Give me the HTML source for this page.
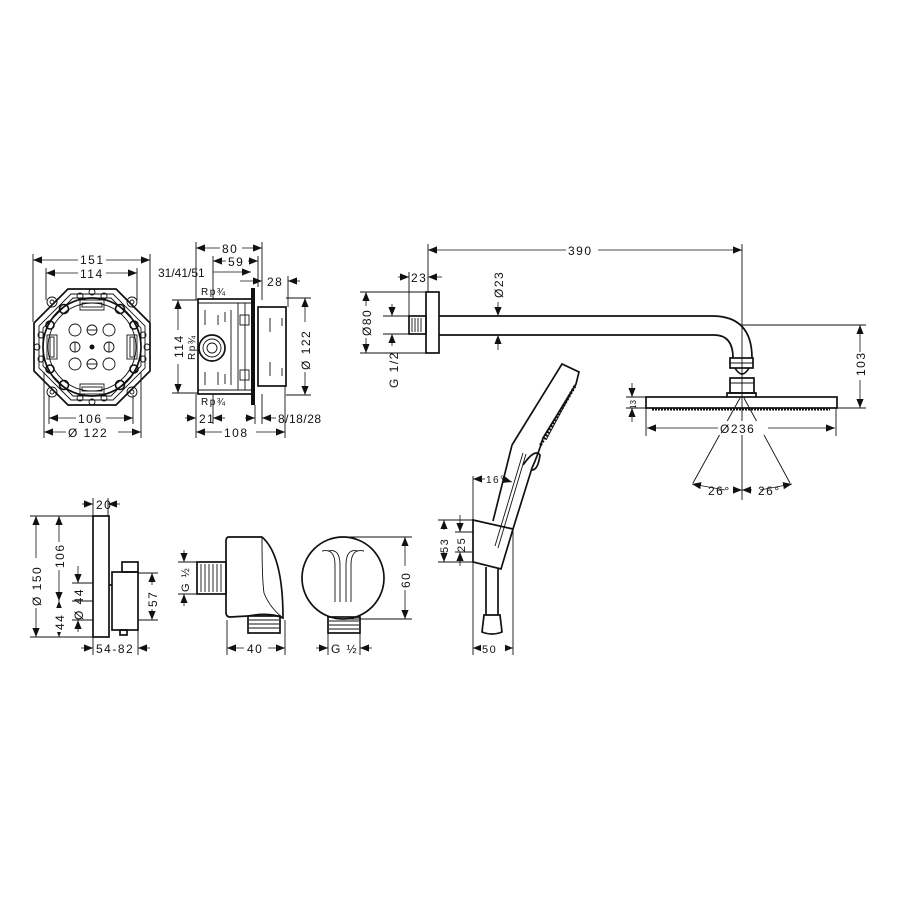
<!DOCTYPE html>
<html><head><meta charset="utf-8"><style>
html,body{margin:0;padding:0;background:#fff}
svg{display:block}
text{font-family:"Liberation Sans",sans-serif;font-size:12px;fill:#111;letter-spacing:1.5px}
.s{fill:none;stroke:#111;stroke-width:1.7}
.t{fill:none;stroke:#111;stroke-width:0.9}
.d{fill:none;stroke:#111;stroke-width:0.8;marker-start:url(#a);marker-end:url(#a)}
.e{fill:none;stroke:#111;stroke-width:0.8;marker-end:url(#a)}
</style></head><body>
<svg width="900" height="900" viewBox="0 0 900 900" xmlns="http://www.w3.org/2000/svg">
<defs>
<marker id="a" viewBox="0 0 10 10" refX="10" refY="5" markerWidth="9" markerHeight="9" markerUnits="userSpaceOnUse" orient="auto-start-reverse"><path d="M0,1 L10,5 L0,9 Z" fill="#111"/></marker>
</defs>

<!-- ===== Octagon box ===== -->
<g>
<polygon class="s" points="68,289 116,289 150,323 150,371 116,405 68,405 34,371 34,323"/>
<polygon class="t" points="71,294 113,294 145,326 145,368 113,400 71,400 39,368 39,326"/>
<polygon class="t" points="73,298 111,298 141,328 141,366 111,396 73,396 43,366 43,328"/>
<circle class="s" cx="92" cy="347" r="49" stroke-width="3"/>
<circle class="t" cx="92" cy="347" r="44"/>
<g class="t">
<circle cx="52" cy="302" r="5"/><circle cx="132" cy="302" r="5"/><circle cx="52" cy="392" r="5"/><circle cx="132" cy="392" r="5"/>
<circle cx="52" cy="302" r="2"/><circle cx="132" cy="302" r="2"/><circle cx="52" cy="392" r="2"/><circle cx="132" cy="392" r="2"/>
<circle cx="64" cy="309" r="4.5" stroke-width="1.6"/><circle cx="120" cy="309" r="4.5" stroke-width="1.6"/><circle cx="64" cy="385" r="4.5" stroke-width="1.6"/><circle cx="120" cy="385" r="4.5" stroke-width="1.6"/>
<circle cx="50" cy="325" r="4" stroke-width="1.6"/><circle cx="134" cy="325" r="4" stroke-width="1.6"/><circle cx="50" cy="369" r="4" stroke-width="1.6"/><circle cx="134" cy="369" r="4" stroke-width="1.6"/>
<circle cx="80" cy="296" r="3"/><circle cx="104" cy="296" r="3"/><circle cx="80" cy="398" r="3"/><circle cx="104" cy="398" r="3"/>
<circle cx="41" cy="335" r="3"/><circle cx="41" cy="359" r="3"/><circle cx="143" cy="335" r="3"/><circle cx="143" cy="359" r="3"/>
<circle cx="92" cy="292" r="3"/><circle cx="92" cy="402" r="3"/><circle cx="37" cy="347" r="3"/><circle cx="147" cy="347" r="3"/>
<circle cx="75" cy="330" r="6"/><circle cx="92" cy="330" r="5"/><circle cx="109" cy="330" r="6"/>
<circle cx="75" cy="347" r="5"/><circle cx="109" cy="347" r="5"/>
<circle cx="75" cy="364" r="6"/><circle cx="92" cy="364" r="5"/><circle cx="109" cy="364" r="6"/>
<line x1="87" y1="330" x2="97" y2="330"/><line x1="87" y1="364" x2="97" y2="364"/><line x1="75" y1="342" x2="75" y2="352"/><line x1="109" y1="342" x2="109" y2="352"/>
<rect x="80" y="300" width="24" height="10"/><rect x="82" y="303" width="20" height="4"/>
<rect x="80" y="384" width="24" height="10"/><rect x="82" y="387" width="20" height="4"/>
<rect x="47" y="335" width="10" height="24"/><rect x="50" y="337" width="4" height="20"/>
<rect x="127" y="335" width="10" height="24"/><rect x="130" y="337" width="4" height="20"/>
</g>
<circle cx="92" cy="347" r="2.5" fill="#111"/>
<g class="t">
<line x1="33" y1="254" x2="33" y2="322"/><line x1="150" y1="254" x2="150" y2="322"/>
<line x1="46" y1="268" x2="46" y2="300"/><line x1="137" y1="268" x2="137" y2="300"/>
<line x1="49" y1="395" x2="49" y2="424"/><line x1="133" y1="395" x2="133" y2="424"/>
<line x1="44" y1="372" x2="44" y2="438"/><line x1="141" y1="372" x2="141" y2="438"/>
</g>
<line class="d" x1="33" y1="260" x2="150" y2="260"/>
<line class="d" x1="46" y1="273" x2="137" y2="273"/>
<line class="d" x1="49" y1="418" x2="133" y2="418"/>
<line class="d" x1="44" y1="432" x2="141" y2="432"/>
<rect x="78" y="252" width="28" height="14" fill="#fff"/><text x="80" y="264">151</text>
<rect x="78" y="266" width="28" height="14" fill="#fff"/><text x="80" y="278">114</text>
<rect x="76" y="411" width="30" height="14" fill="#fff"/><text x="78" y="423">106</text>
<rect x="66" y="425" width="52" height="14" fill="#fff"/><text x="68" y="437">Ø 122</text>
</g>

<!-- ===== Side box ===== -->
<g>
<rect class="s" x="198" y="299" width="54" height="95"/>
<line class="t" x1="198" y1="303" x2="252" y2="303"/><line class="t" x1="198" y1="390" x2="252" y2="390"/>
<rect x="251" y="288" width="4" height="117" fill="#111"/>
<rect class="s" x="258" y="307" width="28" height="79"/>
<line class="t" x1="238" y1="303" x2="238" y2="390"/><line class="t" x1="245" y1="303" x2="245" y2="390"/>
<line class="t" x1="231" y1="310" x2="231" y2="385"/>
<rect class="t" x="240" y="315" width="9" height="10"/><rect class="t" x="240" y="370" width="9" height="10"/>
<circle class="s" cx="212" cy="348" r="13" stroke-width="2.4"/><circle class="t" cx="212" cy="348" r="9"/><circle class="t" cx="212" cy="348" r="5"/>
<g class="t">
<line x1="205" y1="310" x2="205" y2="325"/><line x1="218" y1="315" x2="218" y2="325"/><line x1="225" y1="312" x2="225" y2="322"/>
<line x1="205" y1="372" x2="205" y2="385"/><line x1="218" y1="372" x2="218" y2="385"/><line x1="225" y1="374" x2="225" y2="384"/>
<line x1="270" y1="318" x2="270" y2="332"/><line x1="270" y1="362" x2="270" y2="376"/>
<line x1="282" y1="318" x2="282" y2="326"/><line x1="282" y1="368" x2="282" y2="376"/>
<line x1="196" y1="242" x2="196" y2="300"/><line x1="262" y1="242" x2="262" y2="300"/>
<line x1="213" y1="256" x2="213" y2="300"/><line x1="258" y1="256" x2="258" y2="287"/>
<line x1="288" y1="276" x2="288" y2="307"/>
<line x1="172" y1="300" x2="198" y2="300"/><line x1="172" y1="393" x2="198" y2="393"/>
<line x1="286" y1="298" x2="311" y2="298"/><line x1="286" y1="395" x2="311" y2="395"/>
<line x1="196" y1="394" x2="196" y2="438"/><line x1="213" y1="394" x2="213" y2="424"/>
<line x1="255" y1="405" x2="255" y2="424"/><line x1="262" y1="394" x2="262" y2="424"/>
<line x1="285" y1="386" x2="285" y2="438"/>
</g>
<line class="d" x1="196" y1="248" x2="262" y2="248"/>
<line class="d" x1="213" y1="261" x2="258" y2="261"/>
<line class="e" x1="213" y1="272" x2="251" y2="272"/>
<line class="e" x1="240" y1="281" x2="262" y2="281"/><line class="e" x1="300" y1="281" x2="288" y2="281"/>
<line class="d" x1="178" y1="300" x2="178" y2="393"/>
<line class="d" x1="305" y1="298" x2="305" y2="395"/>
<line class="e" x1="185" y1="418" x2="196" y2="418"/><line class="e" x1="225" y1="418" x2="213" y2="418"/>
<line class="e" x1="245" y1="418" x2="255" y2="418"/><line class="e" x1="276" y1="418" x2="262" y2="418"/>
<line class="d" x1="196" y1="432" x2="285" y2="432"/>
<rect x="220" y="241" width="22" height="14" fill="#fff"/><text x="222" y="253">80</text>
<rect x="226" y="254" width="22" height="14" fill="#fff"/><text x="228" y="266">59</text>
<text x="158" y="277" style="letter-spacing:0">31/41/51</text>
<text x="267" y="286">28</text>
<text x="201" y="295" style="font-size:10px">Rp¾</text>
<text x="201" y="405" style="font-size:10px">Rp¾</text>
<rect x="171" y="330" width="14" height="34" fill="#fff"/>
<text transform="translate(183,358) rotate(-90)">114</text>
<text transform="translate(195,360) rotate(-90)" style="font-size:10px">Rp¾</text>
<rect x="298" y="322" width="14" height="50" fill="#fff"/>
<text transform="translate(310,370) rotate(-90)">Ø 122</text>
<text x="199" y="423">21</text>
<text x="278" y="423" style="letter-spacing:0.5px">8/18/28</text>
<rect x="222" y="425" width="34" height="14" fill="#fff"/><text x="224" y="437">108</text>
</g>

<!-- ===== Shower arm ===== -->
<g>
<rect class="s" x="426" y="292" width="13" height="61"/>
<rect class="s" x="409" y="316" width="17" height="18"/>
<g class="t"><line x1="412" y1="318" x2="412" y2="332"/><line x1="415" y1="318" x2="415" y2="332"/><line x1="418" y1="318" x2="418" y2="332"/><line x1="421" y1="318" x2="421" y2="332"/></g>
<path class="s" d="M439,316 L712,316 Q752,316 752,358"/>
<path class="s" d="M439,335 L714,335 Q733,335 733,358"/>
<rect class="s" x="730" y="358" width="23" height="10"/>
<line class="t" x1="730" y1="363" x2="753" y2="363"/>
<path class="s" d="M735,368 Q742,380 749,368"/>
<rect class="s" x="730" y="378" width="24" height="15"/>
<line class="t" x1="730" y1="383" x2="754" y2="383"/>
<path class="s" d="M727,397 L727,393 L756,393 L756,397"/>
<rect class="s" x="646" y="397" width="191" height="11"/>
<line x1="652" y1="409.5" x2="830" y2="409.5" stroke="#111" stroke-width="2" stroke-dasharray="2,1"/>
<g class="t">
<line x1="742" y1="244" x2="742" y2="500"/>
<line x1="428" y1="244" x2="428" y2="292"/>
<line x1="409" y1="272" x2="409" y2="316"/>
<line x1="360" y1="292" x2="426" y2="292"/><line x1="360" y1="353" x2="426" y2="353"/>
<line x1="383" y1="316" x2="409" y2="316"/><line x1="383" y1="334" x2="409" y2="334"/>
<line x1="742" y1="325" x2="866" y2="325"/><line x1="837" y1="408" x2="866" y2="408"/>
<line x1="626" y1="397" x2="646" y2="397"/><line x1="626" y1="408" x2="646" y2="408"/>
<line x1="646" y1="408" x2="646" y2="436"/><line x1="836" y1="408" x2="836" y2="436"/>
<line x1="740" y1="398" x2="693" y2="483"/><line x1="744" y1="398" x2="790" y2="483"/>
</g>
<line class="d" x1="428" y1="250" x2="742" y2="250"/>
<rect x="566" y="243" width="32" height="14" fill="#fff"/><text x="568" y="255">390</text>
<line class="e" x1="398" y1="277" x2="409" y2="277"/><line class="e" x1="442" y1="277" x2="428" y2="277"/>
<text x="411" y="282">23</text>
<line class="d" x1="366" y1="292" x2="366" y2="353"/>
<rect x="360" y="306" width="14" height="32" fill="#fff"/>
<text transform="translate(371,336) rotate(-90)">Ø80</text>
<line class="e" x1="392" y1="304" x2="392" y2="316"/><line class="e" x1="392" y1="346" x2="392" y2="334"/>
<text transform="translate(398,388) rotate(-90)">G 1/2</text>
<line class="e" x1="498" y1="302" x2="498" y2="316"/><line class="e" x1="498" y1="350" x2="498" y2="335"/>
<text transform="translate(503,298) rotate(-90)">Ø23</text>
<line class="d" x1="860" y1="325" x2="860" y2="408"/>
<rect x="854" y="352" width="14" height="28" fill="#fff"/>
<text transform="translate(865,376) rotate(-90)">103</text>
<line class="e" x1="632" y1="383" x2="632" y2="397"/><line class="e" x1="632" y1="422" x2="632" y2="408"/>
<text transform="translate(636,409) rotate(-90)" style="font-size:8px;letter-spacing:0">13</text>
<line class="d" x1="647" y1="428" x2="835" y2="428"/>
<rect x="718" y="421" width="50" height="14" fill="#fff"/><text x="720" y="433">Ø236</text>
<line class="e" x1="725" y1="490" x2="692" y2="484"/><line class="e" x1="734" y1="490" x2="742" y2="490"/>
<line class="e" x1="760" y1="490" x2="792" y2="484"/><line class="e" x1="752" y1="490" x2="742" y2="490"/>
<text x="708" y="495">26°</text><text x="758" y="495">26°</text>
</g>

<!-- ===== Hand shower ===== -->
<g>
<path class="s" d="M512,445 L562,364 L579,372 L576,384 L543,438 Q538,455 532,468 L513,529"/>
<path class="s" d="M512,445 L493,521"/>
<path class="t" d="M576,384 L546,440"/>
<line x1="575" y1="386" x2="540" y2="446" stroke="#111" stroke-width="3" stroke-dasharray="2,1.5"/>
<path class="s" d="M523,465 Q535,448 540,455 Q538,470 532,470"/>
<line class="t" x1="526" y1="454" x2="498" y2="548"/><line class="t" x1="523" y1="453" x2="495" y2="546"/>
<polygon class="s" points="473,520 513,529 501,569 473,562"/>
<path class="s" d="M486,567 L486,615 M498,569 L498,615"/>
<path class="s" d="M484,615 L500,615 L502,632 Q492,636 482,632 Z"/>
<g class="t">
<line x1="473" y1="476" x2="473" y2="655"/><line x1="513" y1="529" x2="513" y2="655"/>
<line x1="438" y1="520" x2="473" y2="520"/><line x1="438" y1="562" x2="473" y2="562"/>
<line x1="455" y1="532" x2="473" y2="532"/><line x1="455" y1="552" x2="473" y2="552"/>
</g>
<line class="e" x1="485" y1="479" x2="473" y2="479"/><line class="e" x1="502" y1="479" x2="512" y2="482"/>
<text x="486" y="483" style="font-size:10px">16°</text>
<line class="d" x1="444" y1="520" x2="444" y2="562"/>
<rect x="438" y="530" width="13" height="22" fill="#fff"/>
<text transform="translate(448,553) rotate(-90)" style="font-size:11px">53</text>
<line class="e" x1="460" y1="515" x2="460" y2="532"/><line class="e" x1="460" y1="566" x2="460" y2="552"/>
<text transform="translate(465,552) rotate(-90)" style="font-size:11px">25</text>
<line class="d" x1="473" y1="648" x2="513" y2="648"/>
<rect x="481" y="641" width="24" height="14" fill="#fff"/><text x="482" y="653" style="font-size:11px">50</text>
</g>

<!-- ===== Thermostat trim ===== -->
<g>
<rect class="s" x="93" y="516" width="16" height="121"/>
<rect class="s" x="112" y="572" width="26" height="58"/>
<rect class="s" x="122" y="562" width="16" height="10"/>
<line class="s" x1="109" y1="585" x2="112" y2="585"/>
<rect class="s" x="120" y="630" width="7" height="5"/>
<g class="t">
<line x1="30" y1="516" x2="93" y2="516"/><line x1="30" y1="637" x2="93" y2="637"/>
<line x1="72" y1="583" x2="93" y2="583"/><line x1="72" y1="601" x2="93" y2="601"/><line x1="72" y1="620" x2="93" y2="620"/>
<line x1="138" y1="573" x2="158" y2="573"/><line x1="138" y1="620" x2="158" y2="620"/>
<line x1="93" y1="498" x2="93" y2="516"/><line x1="108" y1="498" x2="108" y2="516"/>
<line x1="93" y1="637" x2="93" y2="655"/><line x1="138" y1="630" x2="138" y2="655"/>
</g>
<line class="d" x1="36" y1="516" x2="36" y2="637"/>
<rect x="30" y="558" width="14" height="50" fill="#fff"/>
<text transform="translate(41,606) rotate(-90)">Ø 150</text>
<line class="d" x1="59" y1="516" x2="59" y2="601"/>
<rect x="53" y="542" width="14" height="28" fill="#fff"/>
<text transform="translate(64,568) rotate(-90)">106</text>
<line class="d" x1="59" y1="601" x2="59" y2="637"/>
<rect x="53" y="608" width="14" height="24" fill="#fff"/>
<text transform="translate(64,630) rotate(-90)">44</text>
<line class="e" x1="78" y1="566" x2="78" y2="583"/><line class="e" x1="78" y1="632" x2="78" y2="620"/>
<text transform="translate(83,620) rotate(-90)">Ø 44</text>
<line class="d" x1="152" y1="573" x2="152" y2="620"/>
<rect x="146" y="585" width="14" height="24" fill="#fff"/>
<text transform="translate(157,607) rotate(-90)">57</text>
<line class="e" x1="82" y1="504" x2="93" y2="504"/><line class="e" x1="120" y1="504" x2="108" y2="504"/>
<text x="96" y="509">20</text>
<line class="e" x1="81" y1="648" x2="93" y2="648"/><line class="e" x1="150" y1="648" x2="138" y2="648"/>
<text x="96" y="653">54-82</text>
</g>

<!-- ===== Wall outlet side ===== -->
<g>
<path class="s" d="M229,537 L262,537 Q283,555 283,618 Q270,612 248,616 L230,617 Q226,617 226,612 L226,541 Q226,537 229,537 Z"/>
<path class="t" d="M262,537 Q262,580 264,593 Q270,608 283,618"/>
<rect class="s" x="197" y="562" width="29" height="32"/>
<g class="t"><line x1="201" y1="564" x2="201" y2="592"/><line x1="205" y1="564" x2="205" y2="592"/><line x1="209" y1="564" x2="209" y2="592"/><line x1="213" y1="564" x2="213" y2="592"/><line x1="217" y1="564" x2="217" y2="592"/><line x1="221" y1="564" x2="221" y2="592"/></g>
<rect class="s" x="248" y="616" width="32" height="17"/>
<g class="t"><line x1="249" y1="620" x2="279" y2="620"/><line x1="249" y1="624" x2="279" y2="624"/><line x1="249" y1="628" x2="279" y2="628"/></g>
<g class="t">
<line x1="178" y1="562" x2="197" y2="562"/><line x1="178" y1="594" x2="197" y2="594"/>
<line x1="227" y1="620" x2="227" y2="655"/><line x1="285" y1="620" x2="285" y2="655"/>
</g>
<line class="e" x1="184" y1="550" x2="184" y2="562"/><line class="e" x1="184" y1="606" x2="184" y2="594"/>
<text transform="translate(189,592) rotate(-90)" style="font-size:11px">G ½</text>
<line class="d" x1="227" y1="648" x2="285" y2="648"/>
<rect x="244" y="641" width="24" height="14" fill="#fff"/><text x="247" y="653">40</text>
</g>

<!-- ===== Wall outlet front ===== -->
<g>
<circle class="s" cx="343" cy="578" r="41"/>
<path class="t" d="M322,551 Q335,548 335,565 L335,602 M340,602 L340,565 Q340,548 328,551"/>
<path class="t" d="M364,551 Q351,548 351,565 L351,602 M346,602 L346,565 Q346,548 358,551"/>
<rect class="s" x="328" y="617" width="32" height="16"/>
<g class="t"><line x1="329" y1="621" x2="359" y2="621"/><line x1="329" y1="625" x2="359" y2="625"/><line x1="329" y1="629" x2="359" y2="629"/></g>
<g class="t">
<line x1="343" y1="537" x2="412" y2="537"/><line x1="343" y1="619" x2="412" y2="619"/>
<line x1="328" y1="633" x2="328" y2="655"/><line x1="360" y1="633" x2="360" y2="655"/>
</g>
<line class="d" x1="405" y1="537" x2="405" y2="619"/>
<rect x="399" y="566" width="14" height="24" fill="#fff"/>
<text transform="translate(410,588) rotate(-90)">60</text>
<line class="e" x1="316" y1="648" x2="328" y2="648"/><line class="e" x1="372" y1="648" x2="360" y2="648"/>
<text x="331" y="653">G ½</text>
</g>
</svg>
</body></html>
